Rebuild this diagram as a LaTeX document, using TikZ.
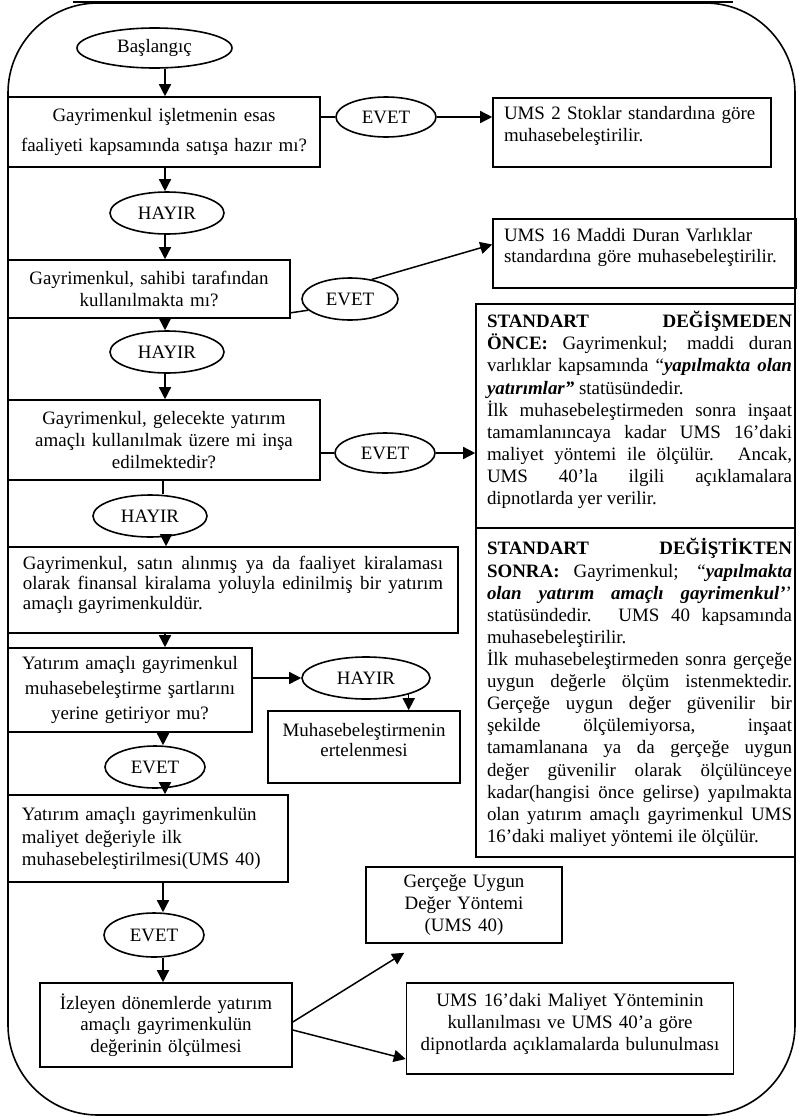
\documentclass[tikz,border=0pt]{standalone}
\usepackage{fontspec}
\setmainfont{Liberation Serif}
\usetikzlibrary{shapes.geometric,arrows.meta,calc}
\setlength{\parindent}{0pt}
\begin{document}
\begin{tikzpicture}[x=1bp,y=-1bp,
  box/.style={draw,line width=1.6bp,rectangle,inner ysep=2bp,inner xsep=6bp,font=\fontsize{19}{22}\selectfont},
  pitch/.style={font=\fontsize{19}{#1}\selectfont},
  raise/.style={execute at end node={\endgraf\kern#1bp\relax}},
  lpad/.style={execute at begin node={\leftskip=#1bp\relax}},
  bigpad/.style={execute at begin node={\leftskip=4bp\rightskip=-4bp\relax}},
  oval/.style={draw,line width=1.6bp,ellipse,inner sep=0pt,font=\fontsize{19}{22}\selectfont},
  arr/.style={line width=1.5bp,-{Triangle[length=12bp,width=12bp]}},
  ln/.style={line width=1.5bp},
]
\useasboundingbox (0,0) rectangle (798,1117);
% outer frame
\draw[line width=1.6bp,rounded corners=90bp] (8,3) rectangle (795,1115);
\draw[line width=1.6bp] (73,2) -- (733,2);

\coordinate (ax) at (165,0);
\coordinate (ax2) at (163,0);
\coordinate (ax3) at (166,0);

% ellipses
\node[oval,minimum width=155bp,minimum height=40bp] (start) at (154.5,48) {Başlangıç};
\node[oval,minimum width=100bp,minimum height=40bp] (e1) at (386,117) {EVET};
\node[oval,minimum width=114bp,minimum height=42bp] (h1) at (167,213) {HAYIR};
\node[oval,minimum width=96bp,minimum height=42bp] (e2) at (350,299) {EVET};
\node[oval,minimum width=114bp,minimum height=42bp] (h2) at (167,352) {HAYIR};
\node[oval,minimum width=100bp,minimum height=40bp] (e3) at (385,453) {EVET};
\node[oval,minimum width=114bp,minimum height=42bp] (h3) at (150,516) {HAYIR};
\node[oval,minimum width=128bp,minimum height=42bp] (h4) at (366,678) {HAYIR};
\node[oval,minimum width=100bp,minimum height=42bp] (e5) at (155,767) {EVET};
\node[oval,minimum width=100bp,minimum height=44bp] (e6) at (154,935) {EVET};

% boxes
\node[box,pitch=30,minimum width=312bp,minimum height=70bp,text width=300bp,align=center] (b1) at (164,132)
  {Gayrimenkul işletmenin esas\\faaliyeti kapsamında satışa hazır mı?};
\node[box,inner xsep=5.5bp,lpad=5.5,raise=13,minimum width=278bp,minimum height=69bp,text width=267bp,align=left] (ums2) at (632,132.5)
  {UMS 2 Stoklar standardına göre\\muhasebeleştirilir.};
\node[box,minimum width=282bp,minimum height=58bp,text width=270bp,align=center] (b2) at (149,289)
  {Gayrimenkul, sahibi tarafından\\kullanılmakta mı?};
\node[box,inner xsep=5.5bp,lpad=5.5,raise=12,minimum width=303bp,minimum height=69bp,text width=292bp,align=left] (ums16) at (644.5,253.5)
  {UMS 16 Maddi Duran Varlıklar\\standardına göre muhasebeleştirilir.};
\node[box,pitch=22.5,minimum width=312bp,minimum height=80bp,text width=300bp,align=center] (b3) at (164,440)
  {Gayrimenkul, gelecekte yatırım\\amaçlı kullanılmak üzere mi inşa\\edilmektedir?};
\node[box,pitch=22.2,inner xsep=7bp,bigpad,raise=12,minimum width=319bp,minimum height=224bp,text width=305bp,align=justify] (top) at (635.5,416)
  {\textbf{STANDART DEĞİŞMEDEN}\linebreak
   \textbf{ÖNCE:} Gayrimenkul; maddi duran\linebreak
   varlıklar kapsamında “\textbf{\textit{yapılmakta olan}}\linebreak
   \textbf{\textit{yatırımlar”}} statüsündedir.\endgraf
   İlk muhasebeleştirmeden sonra inşaat\linebreak
   tamamlanıncaya kadar UMS 16’daki\linebreak
   maliyet yöntemi ile ölçülür. Ancak,\linebreak
   UMS 40’la ilgili açıklamalara\linebreak
   dipnotlarda yer verilir.};
\node[box,pitch=22.2,inner xsep=7bp,bigpad,minimum width=319bp,minimum height=329bp,text width=305bp,align=justify] (bot) at (635.5,692.5)
  {\textbf{STANDART DEĞİŞTİKTEN}\linebreak
   \textbf{SONRA:} Gayrimenkul; “\textbf{\textit{yapılmakta}}\linebreak
   \textbf{\textit{olan yatırım amaçlı gayrimenkul’}}’\linebreak
   statüsündedir. UMS 40 kapsamında\linebreak
   muhasebeleştirilir.\endgraf
   İlk muhasebeleştirmeden sonra gerçeğe\linebreak
   uygun değerle ölçüm istenmektedir.\linebreak
   Gerçeğe uygun değer güvenilir bir\linebreak
   şekilde ölçülemiyorsa, inşaat\linebreak
   tamamlanana ya da gerçeğe uygun\linebreak
   değer güvenilir olarak ölçülünceye\linebreak
   kadar(hangisi önce gelirse) yapılmakta\linebreak
   olan yatırım amaçlı gayrimenkul UMS\linebreak
   16’daki maliyet yöntemi ile ölçülür.};
\node[box,pitch=20,inner xsep=15bp,raise=10,minimum width=450bp,minimum height=86bp,text width=420bp,align=justify] (b4) at (233,590)
  {Gayrimenkul, satın alınmış ya da faaliyet kiralaması\linebreak
   olarak finansal kiralama yoluyla edinilmiş bir yatırım\linebreak
   amaçlı gayrimenkuldür.};
\node[box,pitch=25,minimum width=244bp,minimum height=84bp,text width=232bp,align=center] (b5) at (130,690)
  {Yatırım amaçlı gayrimenkul\\muhasebeleştirme şartlarını\\yerine getiriyor mu?};
\node[box,pitch=21,raise=14,minimum width=192bp,minimum height=72bp,text width=180bp,align=center] (b6) at (364,747)
  {Muhasebeleştirmenin\\ertelenmesi};
\node[box,pitch=22.5,inner xsep=5.5bp,lpad=8.5,minimum width=280bp,minimum height=87bp,text width=269bp,align=left] (b7) at (148,838.5)
  {Yatırım amaçlı gayrimenkulün\\maliyet değeriyle ilk\\muhasebeleştirilmesi(UMS 40)};
\node[box,pitch=21.5,minimum width=252bp,minimum height=84bp,text width=240bp,align=center] (b8) at (166,1025)
  {İzleyen dönemlerde yatırım\\amaçlı gayrimenkulün\\değerinin ölçülmesi};
\node[box,pitch=22.5,minimum width=196bp,minimum height=76bp,text width=184bp,align=center] (b9) at (464,905)
  {Gerçeğe Uygun\\Değer Yöntemi\\(UMS 40)};
\node[box,pitch=22.5,raise=9,minimum width=327bp,minimum height=91bp,text width=315bp,align=center] (b10) at (570,1028.5)
  {UMS 16’daki Maliyet Yönteminin\\kullanılması ve UMS 40’a göre\\dipnotlarda açıklamalarda bulunulması};

% connectors
\draw[arr] (start.south -| ax) -- (b1.north -| ax);
\draw[ln] (b1.east |- e1.west) -- (e1.west);
\draw[arr] (e1.east) -- (ums2.west |- e1.east);
\draw[arr] (b1.south -| ax) -- (h1.north -| ax);
\draw[arr] (h1.south -| ax) -- (b2.north -| ax);
\draw[ln] ($(b2.south east)+(0,-6)$) -- (e2.195);
\draw[arr] (e2.42) -- ($(ums16.west)+(0,-9)$);
\draw[arr] (b2.south -| ax) -- (h2.north -| ax);
\draw[arr] (h2.south -| ax) -- (b3.north -| ax);
\draw[ln] (b3.east |- e3.west) -- (e3.west);
\draw[arr] (e3.east) -- (top.west |- e3.east);
\draw[ln] (b3.south -| ax2) -- (h3.north -| ax2);
\draw[arr] (h3.south -| ax3) -- (b4.north -| ax3);
\draw[arr] (b4.south -| ax) -- (b5.north -| ax);
\draw[arr] (b5.east |- h4.west) -- (h4.west);
\draw[arr] (h4.-21) -- (h4.-21 |- b6.north);
\draw[arr] (b5.south -| ax2) -- (e5.north -| ax2);
\draw[arr] (e5.south -| ax) -- (b7.north -| ax);
\draw[arr] (b7.south -| ax2) -- (e6.north -| ax2);
\draw[arr] (e6.south -| ax2) -- (b8.north -| ax2);
\draw[arr] ($(b8.east)+(0,-3)$) -- ($(b9.south west)+(39,9)$);
\draw[arr] ($(b8.east)+(0,5)$) -- ($(b10.west)+(0,30.5)$);
\end{tikzpicture}
\end{document}
